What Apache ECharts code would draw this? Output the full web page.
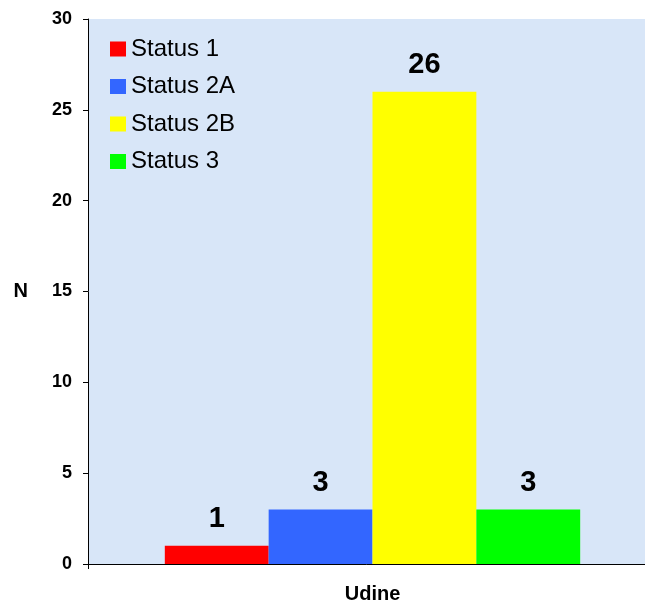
<!DOCTYPE html>
<html><head><meta charset="utf-8">
<script src="https://cdn.jsdelivr.net/npm/echarts@6/dist/echarts.min.js"></script>
<style>html,body{margin:0;padding:0;background:#fff}#c{width:645px;height:608px}</style>
</head><body><div id="c"></div>
<script>
const categories = ['Udine'];
const seriesNames = ['Status 1', 'Status 2A', 'Status 2B', 'Status 3'];
const seriesValues = [[1], [3], [26], [3]];
const colors = ['#ff0000', '#3366ff', '#ffff00', '#00ff00'];
const yTicks = { min: 0, max: 30, interval: 5 };

const chart = echarts.init(document.getElementById('c'), null, { renderer: 'canvas' });
const font = 'Liberation Sans, Arial, sans-serif';
chart.setOption({
  animation: false,
  backgroundColor: '#ffffff',
  grid: { left: 88, top: 19, bottom: 44, right: -12, outerBoundsMode: 'none', containLabel: false, show: true, backgroundColor: '#d8e6f8', borderWidth: 0 },
  legend: {
    orient: 'vertical', left: 110, top: 37, padding: 0,
    itemWidth: 16, itemHeight: 15, itemGap: 13.5,
    textStyle: { fontFamily: font, fontSize: 24, color: '#000', lineHeight: 24 },
    icon: 'rect',
    data: seriesNames
  },
  xAxis: {
    type: 'category', data: categories,
    axisLine: { lineStyle: { color: '#000', width: 1 } },
    axisTick: { show: true, length: 5, lineStyle: { color: '#000' } },
    axisLabel: { fontFamily: font, fontSize: 20, fontWeight: 'bold', color: '#000', margin: 20 }
  },
  yAxis: {
    type: 'value', min: yTicks.min, max: yTicks.max, interval: yTicks.interval,
    name: 'N', nameLocation: 'middle', nameRotate: 0, nameGap: 60,
    nameTextStyle: { fontFamily: font, fontSize: 20, fontWeight: 'bold', color: '#000' },
    axisLine: { show: true, lineStyle: { color: '#000', width: 1 } },
    axisTick: { show: true, length: 5, lineStyle: { color: '#000' } },
    axisLabel: { fontFamily: font, fontSize: 18, fontWeight: 'bold', color: '#000', margin: 16 },
    splitLine: { show: false }
  },
  series: seriesNames.map((n, i) => ({
    name: n, type: 'bar', data: seriesValues[i],
    barGap: '0%', barCategoryGap: '27%',
    itemStyle: { color: colors[i] },
    label: { show: true, position: 'top', distance: 12, fontFamily: font, fontSize: 29, fontWeight: 'bold', color: '#000' }
  }))
});
</script></body></html>
